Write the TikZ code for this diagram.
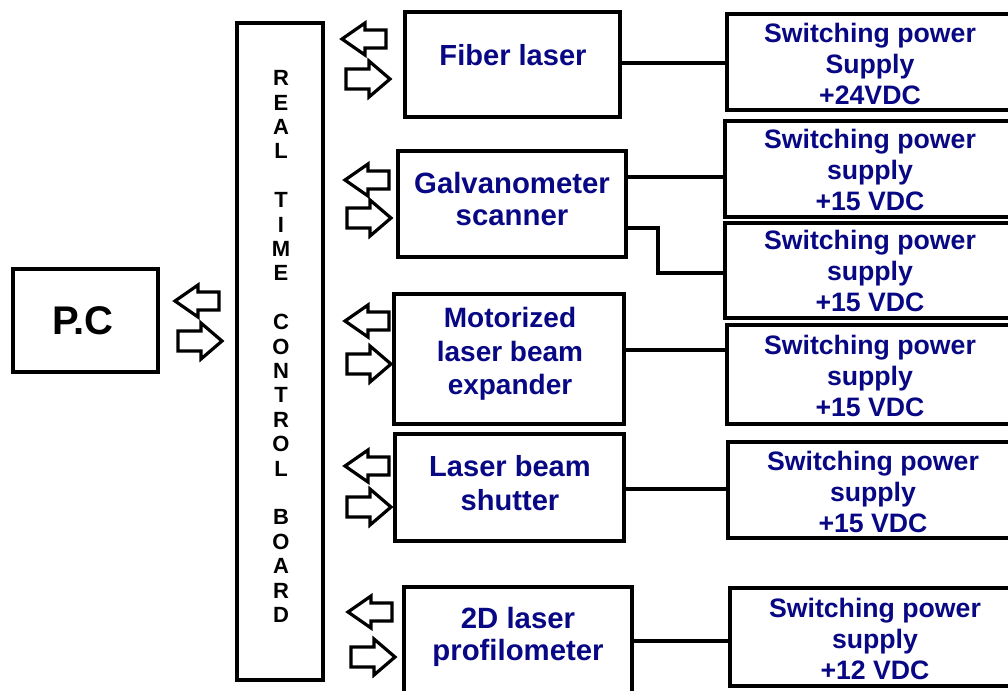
\documentclass[tikz,border=0pt]{standalone}
\usepackage{fontspec}
\setmainfont{Liberation Sans}
\usetikzlibrary{fit}
\definecolor{navy}{RGB}{8,8,132}
\tikzset{
  box/.style={draw=black, line width=2.8pt, inner sep=0pt, fill=white},
  txt/.style={text=navy, align=center, font=\bfseries\fontsize{20}{23.5}\selectfont},
  wire/.style={draw=black, line width=2.4pt},
  arr/.style={draw=black, line width=2.4pt, line join=miter, fill=white},
  pics/larr/.style={code={\draw[arr] (22,-9) -- (1,-9) -- (1,-16) -- (-22,0) -- (1,16) -- (1,9) -- (22,9) -- cycle;}},
  pics/rarr/.style={code={\draw[arr] (-22,-10) -- (1,-10) -- (1,-18) -- (22,0) -- (1,18) -- (1,10) -- (-22,10) -- cycle;}}
}
\begin{document}
\begin{tikzpicture}[x=0.75pt, y=-0.75pt]
\useasboundingbox (0,0) rectangle (1008,690);
% P.C
\node[box, fit={(13,269) (158,372)}] (pc) {};
\node[font=\bfseries\fontsize{30}{34}\selectfont] (pctext) at (83,321) {P.C};
% real time control board
\node[box, fit={(237,23) (323,680)}] (rtc) {};
\node[align=center, font=\bfseries\fontsize{16.5}{18.3}\selectfont] (rtctext) at (281,346.5)
  {R\\E\\A\\L\\~\\T\\I\\M\\E\\~\\C\\O\\N\\T\\R\\O\\L\\~\\B\\O\\A\\R\\D};
% device boxes
\node[box, fit={(405,12) (620,117)}] (fiber) {};
\node[txt, font=\bfseries\fontsize{21.8}{25}\selectfont] (fibertext) at (513,55) {Fiber laser};
\node[box, fit={(398,151) (626,257)}] (galvo) {};
\node[txt, font=\bfseries\fontsize{22}{24}\selectfont] (galvotext) at (512,199) {Galvanometer\\scanner};
\node[box, fit={(394,294) (624,424)}] (beam) {};
\node[txt, font=\bfseries\fontsize{21}{25}\selectfont] (beamtext) at (510,354) {Motorized\\laser beam\\expander};
\node[box, fit={(395,434) (624,541)}] (shutter) {};
\node[txt, font=\bfseries\fontsize{21.8}{25}\selectfont] (shuttertext) at (510,483) {Laser beam\\shutter};
\node[box, fit={(404,587) (632,700)}] (prof) {};
\node[txt, font=\bfseries\fontsize{22}{24}\selectfont] (proftext) at (518,637) {2D laser\\profilometer};
% power supplies
\node[box, fit={(727,14) (1014,110)}] (ps1) {};
\node[txt] (ps1text) at (870,64) {Switching power\\Supply\\+24VDC};
\node[box, fit={(725,121) (1014,217)}] (ps2) {};
\node[txt] (ps2text) at (870,170) {Switching power\\supply\\+15 VDC};
\node[box, fit={(725,223) (1014,318)}] (ps3) {};
\node[txt] (ps3text) at (870,271) {Switching power\\supply\\+15 VDC};
\node[box, fit={(727,325) (1014,424)}] (ps4) {};
\node[txt] (ps4text) at (870,376) {Switching power\\supply\\+15 VDC};
\node[box, fit={(728,442) (1014,538)}] (ps5) {};
\node[txt] (ps5text) at (873,492) {Switching power\\supply\\+15 VDC};
\node[box, fit={(730,588) (1014,686)}] (ps6) {};
\node[txt] (ps6text) at (875,639) {Switching power\\supply\\+12 VDC};
% connectors
\coordinate (f1) at (620,63);
\coordinate (g1) at (626,177);
\coordinate (g2) at (626,228);
\coordinate (g2b) at (658,228);
\coordinate (g2c) at (658,273);
\coordinate (b1) at (624,350);
\coordinate (s1) at (624,489);
\coordinate (p1) at (632,641);
\draw[wire] (f1) -- (f1 -| ps1.west);
\draw[wire] (g1) -- (g1 -| ps2.west);
\draw[wire] (g2) -- (g2b) -- (g2c) -- (g2c -| ps3.west);
\draw[wire] (b1) -- (b1 -| ps4.west);
\draw[wire] (s1) -- (s1 -| ps5.west);
\draw[wire] (p1) -- (p1 -| ps6.west);
% arrows
\pic at (197,301) {larr};
\pic at (200,341) {rarr};
\pic at (364,39) {larr};
\pic at (368,79) {rarr};
\pic at (367,180) {larr};
\pic at (369,218) {rarr};
\pic at (367,321) {larr};
\pic at (369,364) {rarr};
\pic at (367,466) {larr};
\pic at (369,507) {rarr};
\pic at (370,612) {larr};
\pic at (373,657) {rarr};
\end{tikzpicture}
\end{document}
